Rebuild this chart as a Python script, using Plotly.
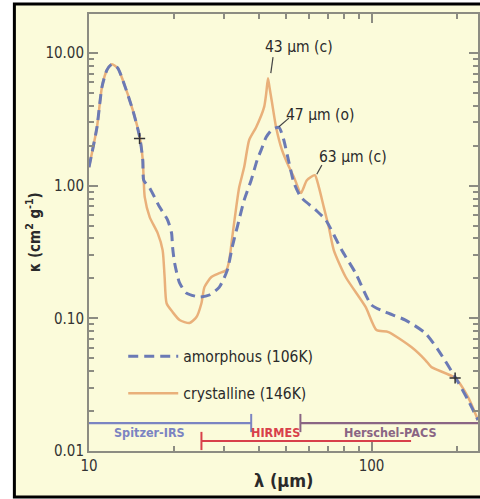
import math
import plotly.graph_objects as go

# Mass absorption coefficient kappa (cm^2 g^-1) versus wavelength (micron)
amorph_wl = [10.0, 10.67, 11.11, 11.57, 12.05, 12.65, 13.17, 14.29, 15.12, 15.50, 15.62,
             16.40, 17.78, 18.98, 19.60, 19.76, 20.09, 20.92, 22.13, 24.60, 26.67, 28.93,
             30.87, 32.14, 33.47, 35.42, 37.49, 39.36, 40.66, 42.34, 44.5, 47.0, 48.8,
             50.5, 53.14, 56.23, 63.51, 68.87, 78.41, 87.84, 100.0, 112.0, 131.8, 155.0,
             172.2, 197.6, 219.6, 238.1]
amorph_kappa = [1.38, 2.76, 5.53, 7.43, 8.25, 7.69, 6.25, 3.71, 2.32, 1.56, 1.10,
                0.96, 0.69, 0.551, 0.439, 0.345, 0.261, 0.185, 0.155, 0.145, 0.150, 0.172,
                0.231, 0.345, 0.488, 0.779, 1.10, 1.56, 1.855, 2.32, 2.65, 2.75, 2.25,
                1.65, 1.05, 0.821, 0.655, 0.551, 0.327, 0.219, 0.126, 0.1116, 0.0971, 0.0774,
                0.0577, 0.0361, 0.0242, 0.0171]

cryst_wl = [10.0, 10.67, 11.11, 11.57, 12.05, 12.65, 13.17, 14.29, 15.12, 15.50, 15.62,
            15.75, 16.40, 17.50, 18.22, 18.52, 18.82, 19.76, 20.92, 22.68, 24.01, 25.00,
            25.62, 27.11, 28.93, 30.62, 31.37, 32.14, 33.20, 34.02, 35.42, 36.89, 39.04,
            41.66, 42.4, 43.0, 43.6, 44.46, 45.93, 48.22, 51.04, 53.14, 56.23, 59.03, 63.0,
            65.09, 67.76, 70.57, 73.49, 80.98, 95.25, 104.1, 114.8, 138.3, 155.0, 162.7,
            197.6, 219.6, 238.1]
cryst_kappa = [1.38, 2.76, 5.53, 7.43, 8.25, 7.69, 6.25, 3.71, 2.32, 1.56, 1.10,
               0.821, 0.580, 0.439, 0.327, 0.205, 0.130, 0.1116, 0.0971, 0.0922, 0.1023, 0.130,
               0.172, 0.205, 0.219, 0.231, 0.275, 0.410, 0.690, 0.976, 1.381, 2.21, 2.76,
               3.91, 5.0, 6.47, 5.4, 4.2, 2.76, 1.855, 1.381, 1.16, 0.880, 1.10, 1.20,
               0.976, 0.690, 0.488, 0.327, 0.205, 0.122, 0.0816, 0.0788, 0.0608, 0.0485, 0.0430,
               0.0355, 0.0255, 0.0171]

# Crossing points marked on the curves
cross_wl = [15.1, 197.6]
cross_kappa = [2.27, 0.0355]

# Band annotations
feature_labels = ["43 μm (c)", "47 μm (o)", "63 μm (c)"]
feature_text_wl = [55.3, 65.6, 85.7]
feature_text_kappa = [11.07, 3.40, 1.643]
leader_from_wl = [44.8, 51.0, 66.7]
leader_from_kappa = [9.31, 3.23, 1.43]
leader_to_wl = [44.0, 47.0, 64.0]
leader_to_kappa = [7.06, 2.78, 1.22]

# Instrument wavelength coverage
inst_names = ["Spitzer-IRS", "HIRMES", "Herschel-PACS"]
inst_lo = [10.0, 25.0, 56.0]
inst_hi = [37.5, 138.0, 240.0]
inst_cap = [37.5, 25.0, 56.0]
inst_kappa = [0.01625, 0.0119, 0.01625]
inst_label_wl = [16.4, 45.9, 116.7]
inst_label_kappa = [0.0139, 0.0139, 0.0139]
inst_colors = ["#7b84c2", "#d8404a", "#8a6584"]

x_ticks = [10, 100]
x_ticktext = ["10", "100"]
x_minor = [20, 30, 40, 50, 60, 70, 80, 90, 200]
y_ticks = [0.01, 0.1, 1, 10]
y_ticktext = ["0.01", "0.10", "1.00", "10.00"]
y_minor = [m * d for d in (0.01, 0.1, 1) for m in range(2, 10)]

FONT = "DejaVu Sans Condensed, Liberation Sans Narrow, sans-serif"
BG = "#fbfbda"
AXIS = "#8c8c82"
INK = "#2a2a2a"

fig = go.Figure()

fig.add_trace(go.Scatter(
    x=cryst_wl, y=cryst_kappa, mode="lines", name="crystalline (146K)",
    line=dict(color="#e9b07a", width=2.5, shape="spline", smoothing=0.6),
    legendgroup="c", legendrank=2))
fig.add_trace(go.Scatter(
    x=amorph_wl, y=amorph_kappa, mode="lines", name="amorphous (106K)",
    line=dict(color="#6b7ab5", width=3, dash="10px,6px", shape="spline", smoothing=0.6),
    legendgroup="a", legendrank=1))

fig.add_trace(go.Scatter(
    x=cross_wl, y=cross_kappa, mode="markers", showlegend=False, hoverinfo="skip",
    marker=dict(symbol="cross-thin", size=8, line=dict(width=1.5, color="#333333"))))

# Leader lines for the band labels
lx, ly = [], []
for a, b, c, d in zip(leader_from_wl, leader_from_kappa, leader_to_wl, leader_to_kappa):
    lx += [a, c, None]
    ly += [b, d, None]
fig.add_trace(go.Scatter(x=lx, y=ly, mode="lines", showlegend=False, hoverinfo="skip",
                         line=dict(color="#444444", width=1.2)))

annotations = []
for lab, w, k in zip(feature_labels, feature_text_wl, feature_text_kappa):
    annotations.append(dict(x=math.log10(w), y=math.log10(k), xref="x", yref="y",
                            text=lab, showarrow=False,
                            font=dict(family=FONT, size=15.5, color=INK)))

# Instrument coverage bars with end caps
for name, lo, hi, cap, k, lw, lk, col in zip(inst_names, inst_lo, inst_hi, inst_cap,
                                             inst_kappa, inst_label_wl, inst_label_kappa,
                                             inst_colors):
    fig.add_trace(go.Scatter(x=[lo, hi], y=[k, k], mode="lines", showlegend=False,
                             hoverinfo="skip", line=dict(color=col, width=2.2)))
    fig.add_trace(go.Scatter(x=[cap], y=[k], mode="markers", showlegend=False,
                             hoverinfo="skip",
                             marker=dict(symbol="line-ns", size=13,
                                         line=dict(width=2, color=col))))
    annotations.append(dict(x=math.log10(lw), y=math.log10(lk), xref="x", yref="y",
                            text="<b>" + name + "</b>", showarrow=False,
                            font=dict(family=FONT, size=12.5, color=col)))

# Axis titles
annotations.append(dict(x=0.501, y=-0.0686, xref="paper", yref="paper",
                        xanchor="center", yanchor="middle",
                        text="<b>λ (μm)</b>", showarrow=False,
                        font=dict(family=FONT, size=18, color=INK)))
annotations.append(dict(x=-0.1432, y=0.501, xref="paper", yref="paper", textangle=-90,
                        xanchor="center", yanchor="middle",
                        text="<b>κ (cm<sup>2</sup> g<sup>-1</sup>)</b>", showarrow=False,
                        font=dict(family=FONT, size=15, color=INK)))

axis_common = dict(type="log", showgrid=False, zeroline=False, showline=True,
                   linecolor=AXIS, linewidth=2, mirror="allticks", ticks="inside",
                   ticklen=9, tickwidth=1.5, tickcolor=AXIS,
                   tickfont=dict(family=FONT, size=15, color="#333333"))

fig.update_layout(
    width=480, height=499,
    margin=dict(l=89, r=0, t=14, b=48),
    paper_bgcolor="white",
    plot_bgcolor=BG,
    showlegend=True,
    legend=dict(x=0.088, y=0.255, xanchor="left", yanchor="top",
                bgcolor="rgba(0,0,0,0)", traceorder="grouped", tracegroupgap=14,
                itemwidth=50,
                font=dict(family=FONT, size=15.5, color=INK)),
    xaxis=dict(axis_common, range=[1, math.log10(238.1)], tickvals=x_ticks,
               ticktext=x_ticktext,
               minor=dict(tickvals=x_minor, ticks="inside", ticklen=5, tickwidth=1.5,
                          tickcolor=AXIS)),
    yaxis=dict(axis_common, range=[-2, math.log10(19.7)], tickvals=y_ticks,
               ticktext=y_ticktext,
               minor=dict(tickvals=y_minor, ticks="inside", ticklen=5, tickwidth=1.5,
                          tickcolor=AXIS)),
    annotations=annotations,
    shapes=[dict(type="rect", xref="paper", yref="paper", layer="below",
                 x0=-0.1918, x1=1.03, y0=-0.1053, y1=1.0229,
                 fillcolor=BG, line=dict(color="black", width=3))],
)

fig.write_html("out.html")
